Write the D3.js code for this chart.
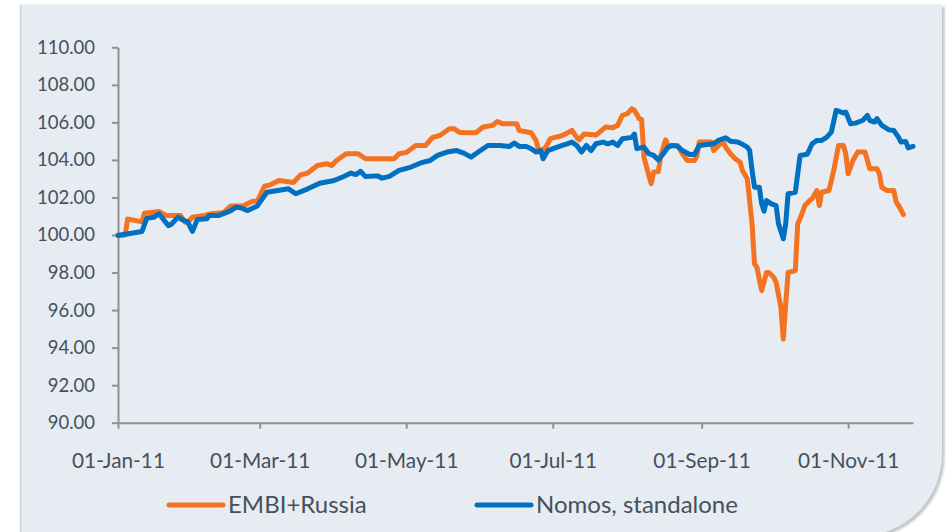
<!DOCTYPE html>
<html>
<head>
<meta charset="utf-8">
<script src="https://cdn.jsdelivr.net/npm/d3@7"></script>
<style>
  html, body { margin: 0; padding: 0; background: #ffffff; }
  svg { display: block; font-family: Lato, "Open Sans", sans-serif; }
</style>
</head>
<body>
<svg id="chart" width="946" height="532"></svg>
<script>
// EMBI+Russia index, rebased to 100 on 01-Jan-11
const embiDates = [
  "2011-01-01","2011-01-04","2011-01-05","2011-01-11","2011-01-12","2011-01-18","2011-01-21","2011-01-27",
  "2011-01-29","2011-01-30","2011-02-01","2011-02-06","2011-02-09","2011-02-14","2011-02-17","2011-02-22",
  "2011-02-26","2011-02-28","2011-03-03","2011-03-05","2011-03-09","2011-03-15","2011-03-18","2011-03-21",
  "2011-03-25","2011-03-29","2011-03-31","2011-04-02","2011-04-06","2011-04-11","2011-04-14","2011-04-26",
  "2011-04-28","2011-05-01","2011-05-05","2011-05-09","2011-05-12","2011-05-15","2011-05-19","2011-05-21",
  "2011-05-23","2011-05-26","2011-05-30","2011-06-02","2011-06-06","2011-06-08","2011-06-10","2011-06-16",
  "2011-06-17","2011-06-22","2011-06-24","2011-06-25","2011-06-26","2011-06-28","2011-06-30","2011-07-02",
  "2011-07-05","2011-07-07","2011-07-09","2011-07-11","2011-07-12","2011-07-14","2011-07-19","2011-07-21",
  "2011-07-23","2011-07-26","2011-07-28","2011-07-30","2011-08-01","2011-08-03","2011-08-04","2011-08-06",
  "2011-08-07","2011-08-08","2011-08-10","2011-08-11","2011-08-12","2011-08-14","2011-08-15","2011-08-17",
  "2011-08-18","2011-08-22","2011-08-24","2011-08-26","2011-08-29","2011-08-30","2011-08-31","2011-09-05",
  "2011-09-06","2011-09-08","2011-09-10","2011-09-11","2011-09-13","2011-09-15","2011-09-17","2011-09-18",
  "2011-09-20","2011-09-22","2011-09-23","2011-09-24","2011-09-26","2011-09-28","2011-09-29","2011-10-01",
  "2011-10-02","2011-10-04","2011-10-05","2011-10-06","2011-10-07","2011-10-10","2011-10-11","2011-10-12",
  "2011-10-14","2011-10-16","2011-10-17","2011-10-19","2011-10-20","2011-10-21","2011-10-24","2011-10-25",
  "2011-10-26","2011-10-28","2011-10-30","2011-10-31","2011-11-01","2011-11-03","2011-11-05","2011-11-08",
  "2011-11-10","2011-11-13","2011-11-14","2011-11-15","2011-11-17","2011-11-20","2011-11-21","2011-11-22",
  "2011-11-24"
];
const embiValues = [
  100.00,100.00,100.85,100.70,101.16,101.25,101.04,101.04,
  100.68,100.68,100.95,101.04,101.13,101.20,101.55,101.55,
  101.80,101.80,102.60,102.65,102.90,102.80,103.20,103.30,
  103.70,103.80,103.70,103.97,104.33,104.33,104.06,104.06,
  104.33,104.40,104.77,104.77,105.20,105.30,105.66,105.66,
  105.48,105.45,105.45,105.75,105.84,106.05,105.93,105.93,
  105.57,105.45,105.04,104.60,104.50,104.65,105.13,105.20,
  105.30,105.43,105.57,105.20,105.07,105.38,105.33,105.53,
  105.75,105.72,105.84,106.37,106.46,106.73,106.64,106.20,
  106.15,104.15,103.17,102.73,103.35,103.38,104.24,105.07,
  104.77,104.77,104.33,103.97,103.97,104.20,104.95,104.95,
  104.50,104.77,104.95,104.68,104.33,104.06,103.88,103.44,
  103.00,100.60,98.46,98.28,97.04,98.00,98.00,97.75,
  97.48,96.15,94.46,96.33,98.00,98.10,100.60,100.87,
  101.57,101.84,101.93,102.37,101.57,102.28,102.37,102.90,
  103.44,104.77,104.77,104.33,103.26,103.97,104.42,104.42,
  103.53,103.53,103.26,102.55,102.37,102.37,101.75,101.57,
  101.09
];

// Nomos, standalone, rebased to 100 on 01-Jan-11
const nomosDates = [
  "2011-01-01","2011-01-11","2011-01-13","2011-01-16","2011-01-18","2011-01-22","2011-01-23","2011-01-26",
  "2011-01-28","2011-01-30","2011-02-01","2011-02-03","2011-02-07","2011-02-08","2011-02-12","2011-02-17",
  "2011-02-19","2011-02-21","2011-02-24","2011-02-28","2011-03-04","2011-03-13","2011-03-16","2011-03-21",
  "2011-03-26","2011-04-01","2011-04-05","2011-04-08","2011-04-10","2011-04-12","2011-04-14","2011-04-19",
  "2011-04-21","2011-04-24","2011-04-28","2011-05-03","2011-05-07","2011-05-11","2011-05-14","2011-05-18",
  "2011-05-22","2011-05-25","2011-05-28","2011-05-31","2011-06-04","2011-06-09","2011-06-13","2011-06-15",
  "2011-06-17","2011-06-20","2011-06-22","2011-06-24","2011-06-26","2011-06-27","2011-06-29","2011-07-02",
  "2011-07-05","2011-07-07","2011-07-09","2011-07-11","2011-07-13","2011-07-15","2011-07-17","2011-07-19",
  "2011-07-22","2011-07-24","2011-07-26","2011-07-28","2011-07-30","2011-08-03","2011-08-04","2011-08-05",
  "2011-08-08","2011-08-10","2011-08-12","2011-08-14","2011-08-16","2011-08-18","2011-08-20","2011-08-22",
  "2011-08-24","2011-08-27","2011-08-29","2011-08-31","2011-09-06","2011-09-08","2011-09-11","2011-09-13",
  "2011-09-16","2011-09-18","2011-09-20","2011-09-21","2011-09-22","2011-09-23","2011-09-25","2011-09-26",
  "2011-09-27","2011-09-28","2011-09-30","2011-10-02","2011-10-03","2011-10-05","2011-10-06","2011-10-07",
  "2011-10-10","2011-10-11","2011-10-12","2011-10-15","2011-10-17","2011-10-19","2011-10-21","2011-10-23",
  "2011-10-25","2011-10-27","2011-10-28","2011-10-30","2011-10-31","2011-11-02","2011-11-04","2011-11-07",
  "2011-11-09","2011-11-10","2011-11-12","2011-11-13","2011-11-15","2011-11-18","2011-11-20","2011-11-22",
  "2011-11-23","2011-11-25","2011-11-26","2011-11-28"
];
const nomosValues = [
  99.97,100.19,100.90,100.95,101.13,100.50,100.55,100.95,
  100.80,100.70,100.19,100.82,100.87,101.04,101.04,101.30,
  101.48,101.45,101.30,101.55,102.28,102.46,102.20,102.46,
  102.76,102.90,103.12,103.30,103.22,103.39,103.12,103.15,
  103.03,103.12,103.44,103.62,103.84,103.97,104.24,104.42,
  104.50,104.36,104.15,104.42,104.77,104.77,104.72,104.90,
  104.72,104.72,104.60,104.42,104.50,104.06,104.50,104.64,
  104.77,104.86,104.95,104.77,104.42,104.77,104.50,104.86,
  104.95,104.86,104.95,104.77,105.13,105.20,105.38,104.60,
  104.68,104.33,104.24,104.00,104.33,104.68,104.77,104.72,
  104.50,104.29,104.29,104.77,104.86,105.04,105.18,105.00,
  104.95,104.83,104.68,104.50,103.44,102.55,102.55,101.66,
  101.27,101.84,101.66,101.57,100.60,99.80,100.60,102.20,
  102.28,103.26,104.24,104.30,104.86,105.04,105.04,105.20,
  105.48,106.64,106.60,106.50,106.55,105.93,105.96,106.10,
  106.37,106.10,106.02,106.20,105.84,105.60,105.57,105.20,
  104.95,104.98,104.64,104.72
];

const yTicks = [90, 92, 94, 96, 98, 100, 102, 104, 106, 108, 110];
const xTicks = ["2011-01-01","2011-03-01","2011-05-01","2011-07-01","2011-09-01","2011-11-01"];
const seriesNames = ["EMBI+Russia", "Nomos, standalone"];
const seriesColors = ["#F47321", "#0070C0"];

const parse = d3.timeParse("%Y-%m-%d");
const svg = d3.select("#chart");
const textColor = "#44515d";
const axisColor = "#8e9296";

// Panel with a rounded lower-right corner and a soft shadow
const L = 20, T = 4, R = 942, B = 536, rad = 82;
const panelPath = `M${L},${T}H${R}V${B - rad}A${rad},${rad} 0 0 1 ${R - rad},${B}H${L}Z`;
const defs = svg.append("defs");
defs.append("filter").attr("id", "soft").attr("x", "-5%").attr("y", "-5%").attr("width", "110%").attr("height", "110%")
  .append("feGaussianBlur").attr("stdDeviation", 1.2);
svg.append("path").attr("d", panelPath).attr("transform", "translate(2.5,2.5)")
  .attr("fill", "#c4c6c9").attr("filter", "url(#soft)");
svg.append("path").attr("d", panelPath).attr("fill", "#E7EBF2");
svg.append("line").attr("x1", L + 0.5).attr("x2", L + 0.5).attr("y1", T).attr("y2", 532)
  .attr("stroke", "#cdd1d7").attr("stroke-width", 1.5);
svg.append("line").attr("x1", L).attr("x2", R).attr("y1", T + 0.5).attr("y2", T + 0.5)
  .attr("stroke", "#eef0f4").attr("stroke-width", 1);

// Scales
const x = d3.scaleTime()
  .domain([parse("2011-01-01"), parse("2011-11-28")])
  .range([118, 913]);
const y = d3.scaleLinear().domain([90, 110]).range([422.7, 47.3]);

// Y axis
const yAxis = svg.append("g").attr("transform", "translate(118,0)")
  .call(d3.axisLeft(y).tickValues(yTicks).tickFormat(d3.format(".2f"))
    .tickSize(6).tickSizeOuter(0).tickPadding(17));
// X axis
const xAxis = svg.append("g").attr("transform", `translate(0,${y(90)})`)
  .call(d3.axisBottom(x).tickValues(xTicks.map(parse)).tickFormat(d3.timeFormat("%d-%b-%y"))
    .tickSize(6).tickSizeOuter(0).tickPadding(25));

[yAxis, xAxis].forEach(g => {
  g.selectAll("path.domain").attr("stroke", axisColor).attr("stroke-width", 2);
  g.selectAll(".tick line").attr("stroke", axisColor).attr("stroke-width", 2);
  g.selectAll("text").attr("fill", textColor).attr("font-family", "Lato, sans-serif");
});
yAxis.selectAll("text").attr("font-size", 18.5);
xAxis.selectAll("text").attr("font-size", 20.8).attr("dy", "0.68em");

// Series lines
const line = d3.line().x(d => x(d.date)).y(d => y(d.value));
const series = [
  embiDates.map((d, i) => ({ date: parse(d), value: embiValues[i] })),
  nomosDates.map((d, i) => ({ date: parse(d), value: nomosValues[i] }))
];
series.forEach((data, i) => {
  svg.append("path").datum(data)
    .attr("d", line)
    .attr("fill", "none")
    .attr("stroke", seriesColors[i])
    .attr("stroke-width", 5)
    .attr("stroke-linejoin", "round")
    .attr("stroke-linecap", "round");
});

// Legend
const legendX = [169, 477];
const legend = svg.append("g");
seriesNames.forEach((name, i) => {
  legend.append("line")
    .attr("x1", legendX[i]).attr("x2", legendX[i] + 54)
    .attr("y1", 505).attr("y2", 505)
    .attr("stroke", seriesColors[i]).attr("stroke-width", 5).attr("stroke-linecap", "round");
  legend.append("text")
    .attr("x", legendX[i] + 59).attr("y", 513)
    .attr("fill", textColor).attr("font-size", 24)
    .attr("font-family", "Lato, sans-serif")
    .text(name);
});
</script>
</body>
</html>
